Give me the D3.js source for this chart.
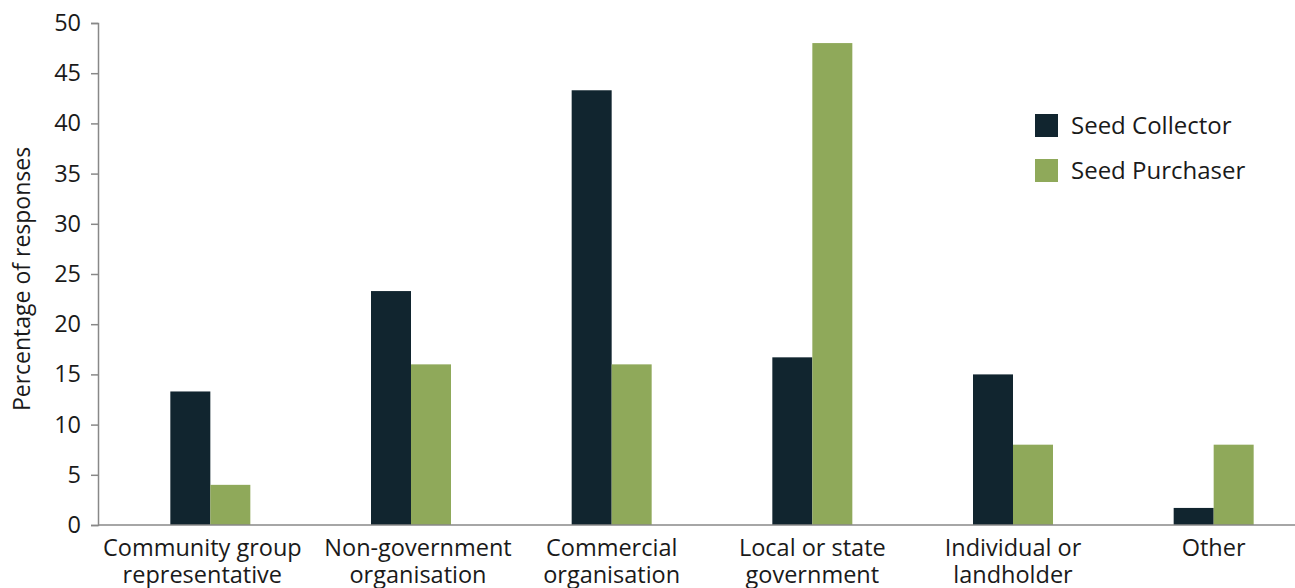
<!DOCTYPE html>
<html><head><meta charset="utf-8">
<script src="https://cdn.jsdelivr.net/npm/d3@7"></script>
<style>body{margin:0;background:#fff;} text{font-family:"Open Sans",sans-serif;fill:#1a1a1a;}</style>
</head><body>
<svg id="c" width="1295" height="588"></svg>
<script>
const categories = [["Community group","representative"],["Non-government","organisation"],["Commercial","organisation"],["Local or state","government"],["Individual or","landholder"],["Other"]];
const seriesNames = ["Seed Collector","Seed Purchaser"];
const collector = [13.3, 23.3, 43.3, 16.7, 15, 1.7];
const purchaser = [4, 16, 16, 48, 8, 8];
const yTicks = [0,5,10,15,20,25,30,35,40,45,50];
const colors = ["#11252f","#8fa95a"];

const svg = d3.select("#c");
const y = d3.scaleLinear().domain([0,50]).range([525,23]);
const x = d3.scaleBand().domain(d3.range(categories.length)).range([110,1314]).paddingInner(0).paddingOuter(0);
const bw = 40;
const data = [collector, purchaser];
// layout nudges so neighbouring long labels don't collide (as in the reference)
const labelNudge = [-8, 7, 0, 0, 0, 0];

// y axis
const yAxis = d3.axisLeft(y).tickValues(yTicks).tickSize(7).tickPadding(10);
const ga = svg.append("g").attr("transform","translate(98,0)").call(yAxis);
ga.select(".domain").attr("stroke","#888").attr("stroke-width",1.5);
ga.selectAll(".tick line").attr("stroke","#888").attr("stroke-width",1.5);
ga.selectAll(".tick text").style("font-size","23.5px").attr("fill","#1a1a1a");

// bars
data.forEach((vals,si)=>{
  svg.append("g").selectAll("rect").data(vals).join("rect")
    .attr("x",(d,i)=>x(i)+x.bandwidth()/2 - bw + si*bw)
    .attr("y",d=>y(d)).attr("width",bw).attr("height",d=>y(0)-y(d))
    .attr("fill",colors[si]);
});

// x axis line
svg.append("line").attr("x1",98).attr("x2",1295).attr("y1",y(0)).attr("y2",y(0)).attr("stroke","#888").attr("stroke-width",1.5);

// category labels
categories.forEach((lines,i)=>{
  const cx = x(i)+x.bandwidth()/2 + labelNudge[i];
  lines.forEach((l,j)=>svg.append("text").attr("text-anchor","middle").style("font-size","23.5px")
    .attr("x",cx).attr("y",556 + j*26.5).text(l));
});

// y title
svg.append("text").attr("transform","translate(30,279) rotate(-90)").attr("text-anchor","middle").style("font-size","23px").text("Percentage of responses");

// legend
seriesNames.forEach((n,i)=>{
  svg.append("rect").attr("x",1035).attr("y",114+i*45).attr("width",23).attr("height",23).attr("fill",colors[i]);
  svg.append("text").attr("x",1071).attr("y",134+i*45).style("font-size","24px").text(n);
});
</script>
</body></html>
